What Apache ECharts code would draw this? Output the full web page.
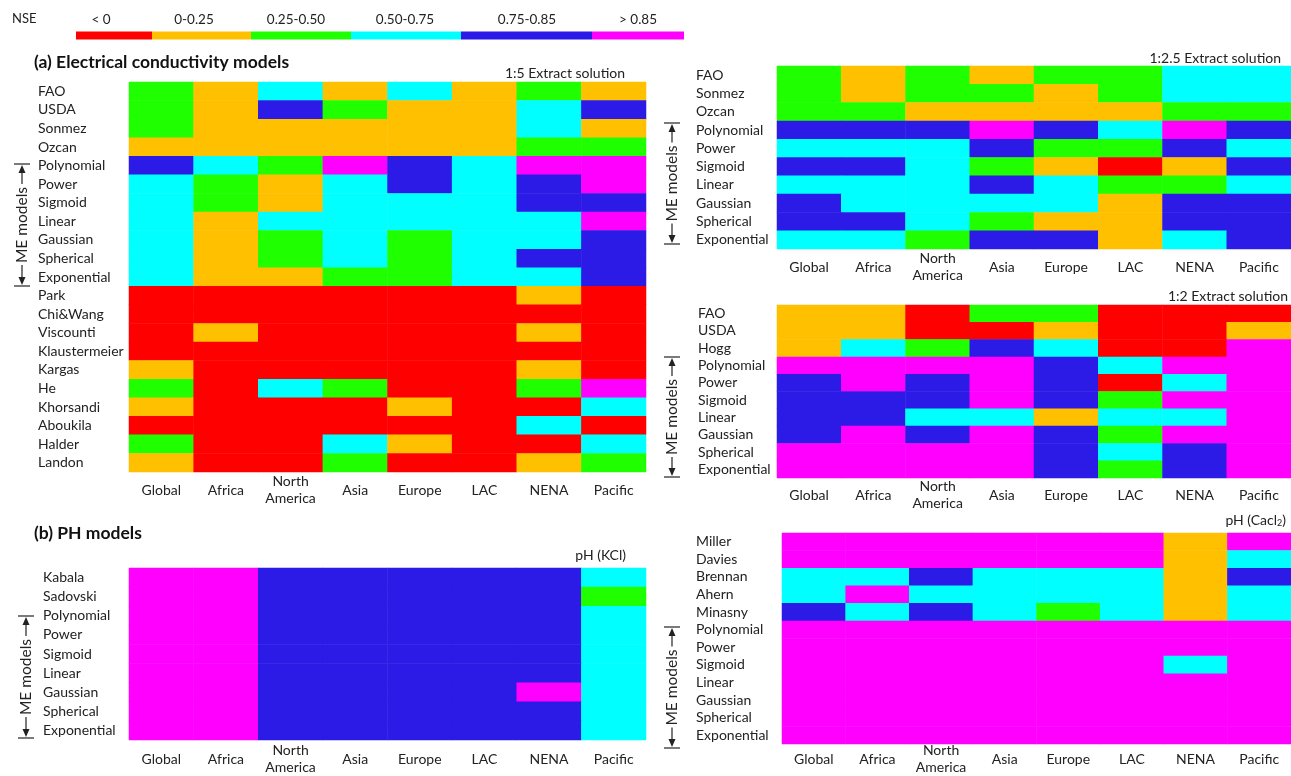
<!DOCTYPE html>
<html>
<head>
<meta charset="utf-8">
<script src="https://cdn.jsdelivr.net/npm/echarts@6/dist/echarts.min.js"></script>
<style>
html,body{margin:0;padding:0;background:#fff;}
#c{width:1291px;height:776px;}
</style>
</head>
<body>
<div id="c"></div>
<script>
// NSE classes: 0 "<0", 1 "0-0.25", 2 "0.25-0.50", 3 "0.50-0.75", 4 "0.75-0.85", 5 ">0.85"
const nseClasses = ['< 0', '0-0.25', '0.25-0.50', '0.50-0.75', '0.75-0.85', '> 0.85'];
const nseColors = ['#FF0000', '#FFC000', '#20FF00', '#00FFFF', '#2C1BE6', '#FF00FF'];
const regions = ['Global', 'Africa', 'North\nAmerica', 'Asia', 'Europe', 'LAC', 'NENA', 'Pacific'];

// (a) EC 1:5 extract
const ec15Models = ['FAO','USDA','Sonmez','Ozcan','Polynomial','Power','Sigmoid','Linear','Gaussian','Spherical','Exponential','Park','Chi&Wang','Viscounti','Klaustermeier','Kargas','He','Khorsandi','Aboukila','Halder','Landon'];
const ec15Values = [
  [2,1,3,1,3,1,2,1],
  [2,1,4,2,1,1,3,4],
  [2,1,1,1,1,1,3,1],
  [1,1,1,1,1,1,2,2],
  [4,3,2,5,4,3,5,5],
  [3,2,1,3,4,3,4,5],
  [3,2,1,3,3,3,4,4],
  [3,1,3,3,3,3,3,5],
  [3,1,2,3,2,3,3,4],
  [3,1,2,3,2,3,4,4],
  [3,1,1,2,2,3,3,4],
  [0,0,0,0,0,0,1,0],
  [0,0,0,0,0,0,0,0],
  [0,1,0,0,0,0,1,0],
  [0,0,0,0,0,0,0,0],
  [1,0,0,0,0,0,1,0],
  [2,0,3,2,0,0,2,5],
  [1,0,0,0,1,0,0,3],
  [0,0,0,0,0,0,3,0],
  [2,0,0,3,1,0,0,3],
  [1,0,0,2,0,0,1,2]
];

// EC 1:2.5 extract
const ec125Models = ['FAO','Sonmez','Ozcan','Polynomial','Power','Sigmoid','Linear','Gaussian','Spherical','Exponential'];
const ec125Values = [
  [2,1,2,1,2,2,3,3],
  [2,1,2,2,1,2,3,3],
  [2,2,1,1,1,1,2,2],
  [4,4,4,5,4,3,5,4],
  [3,3,3,4,2,2,4,3],
  [4,4,3,2,1,0,1,4],
  [3,3,3,4,3,2,2,3],
  [4,3,3,3,3,1,4,4],
  [4,4,3,2,1,1,4,4],
  [3,3,2,4,4,1,3,4]
];

// EC 1:2 extract
const ec12Models = ['FAO','USDA','Hogg','Polynomial','Power','Sigmoid','Linear','Gaussian','Spherical','Exponential'];
const ec12Values = [
  [1,1,0,2,2,0,0,0],
  [1,1,0,0,1,0,0,1],
  [1,3,2,4,3,0,0,5],
  [5,5,5,5,4,3,5,5],
  [4,5,4,5,4,0,3,5],
  [4,4,4,5,4,2,5,5],
  [4,4,3,3,1,3,3,5],
  [4,5,4,5,4,2,5,5],
  [5,5,5,5,4,3,4,5],
  [5,5,5,5,4,2,4,5]
];

// (b) pH KCl
const phKclModels = ['Kabala','Sadovski','Polynomial','Power','Sigmoid','Linear','Gaussian','Spherical','Exponential'];
const phKclValues = [
  [5,5,4,4,4,4,4,3],
  [5,5,4,4,4,4,4,2],
  [5,5,4,4,4,4,4,3],
  [5,5,4,4,4,4,4,3],
  [5,5,4,4,4,4,4,3],
  [5,5,4,4,4,4,4,3],
  [5,5,4,4,4,4,5,3],
  [5,5,4,4,4,4,4,3],
  [5,5,4,4,4,4,4,3]
];

// pH CaCl2
const phCaModels = ['Miller','Davies','Brennan','Ahern','Minasny','Polynomial','Power','Sigmoid','Linear','Gaussian','Spherical','Exponential'];
const phCaValues = [
  [5,5,5,5,5,5,1,5],
  [5,5,5,5,5,5,1,3],
  [3,3,4,3,3,3,1,4],
  [3,5,3,3,3,3,1,3],
  [4,3,4,3,2,3,1,3],
  [5,5,5,5,5,5,5,5],
  [5,5,5,5,5,5,5,5],
  [5,5,5,5,5,5,3,5],
  [5,5,5,5,5,5,5,5],
  [5,5,5,5,5,5,5,5],
  [5,5,5,5,5,5,5,5],
  [5,5,5,5,5,5,5,5]
];

const FONT = 'Lato, "Open Sans", sans-serif';
const TXT = '#222';

const panels = [
  {models: ec15Models, values: ec15Values, grid: {left:129, top:82, width:517, height:390}, yMargin:91, xMargin:18},
  {models: ec125Models, values: ec125Values, grid: {left:777, top:66, width:514, height:183}, yMargin:81, xMargin:18},
  {models: ec12Models, values: ec12Values, grid: {left:777, top:305, width:514, height:173}, yMargin:79, xMargin:17},
  {models: phKclModels, values: phKclValues, grid: {left:129, top:568, width:517, height:175}, yMargin:86, xMargin:19},
  {models: phCaModels, values: phCaValues, grid: {left:782, top:533, width:509, height:215}, yMargin:86, xMargin:15}
];

const grids = [], xAxes = [], yAxes = [], series = [];
panels.forEach((p, i) => {
  grids.push(Object.assign({containLabel:false}, p.grid));
  xAxes.push({
    type:'category', gridIndex:i, data:regions,
    axisLine:{show:false}, axisTick:{show:false}, splitLine:{show:false},
    axisLabel:{interval:0, margin:p.xMargin, verticalAlign:'middle', color:TXT, fontFamily:FONT, fontSize:14, lineHeight:17}
  });
  yAxes.push({
    type:'category', gridIndex:i, data:p.models, inverse:true,
    axisLine:{show:false}, axisTick:{show:false}, splitLine:{show:false},
    axisLabel:{interval:0, margin:p.yMargin, align:'left', color:TXT, fontFamily:FONT, fontSize:14, padding:[2,0,0,0]}
  });
  const data = [];
  p.values.forEach((row, r) => row.forEach((v, c) => data.push([c, r, v])));
  series.push({
    type:'heatmap', xAxisIndex:i, yAxisIndex:i, data:data,
    itemStyle:{borderWidth:0}, emphasis:{disabled:true}, silent:true, progressive:0
  });
});

// Graphic: legend, titles, brackets
const graphic = [];
const legendStops = [76, 152, 251, 351, 461, 592, 684];
const legendLabelX = [101, 194, 296, 405, 527, 638];
graphic.push({type:'text', left:12, top:12, style:{text:'NSE', fill:TXT, font:'13px ' + FONT}});
nseClasses.forEach((lab, k) => {
  graphic.push({type:'rect', shape:{x:legendStops[k], y:31.5, width:legendStops[k+1]-legendStops[k], height:8}, style:{fill:nseColors[k]}});
  graphic.push({type:'text', x:legendLabelX[k], y:20, style:{text:lab, fill:TXT, font:'13.5px ' + FONT, textAlign:'center', textVerticalAlign:'middle'}});
});

function addText(txt, x, y, opts) {
  graphic.push({type:'text', x:x, y:y, style:Object.assign({text:txt, fill:TXT, font:'14px ' + FONT, textVerticalAlign:'middle'}, opts||{})});
}
addText('(a) Electrical conductivity models', 34, 62, {font:'bold 17.5px ' + FONT, fill:'#111'});
addText('(b) PH models', 34, 533, {font:'bold 17.5px ' + FONT, fill:'#111'});
addText('1:5 Extract solution', 625, 73, {textAlign:'right'});
addText('1:2.5 Extract solution', 1281, 58, {textAlign:'right'});
addText('1:2 Extract solution', 1288, 296, {textAlign:'right'});
addText('pH (KCl)', 626, 555, {textAlign:'right'});
graphic.push({type:'text', x:1286, y:520, style:{
  text:'pH (Cacl{s|2})', textAlign:'right', textVerticalAlign:'middle', fill:TXT, font:'14px ' + FONT,
  rich:{s:{fontSize:9, fontFamily:FONT, fill:TXT, padding:[6,0,0,0]}}
}});

function bracket(x, yTop, yBot) {
  const mid = (yTop + yBot) / 2;
  const lc = '#222';
  graphic.push({type:'line', shape:{x1:x-8, y1:yTop, x2:x+8, y2:yTop}, style:{stroke:lc, lineWidth:1.2}});
  graphic.push({type:'line', shape:{x1:x-8, y1:yBot, x2:x+8, y2:yBot}, style:{stroke:lc, lineWidth:1.2}});
  graphic.push({type:'polygon', shape:{points:[[x, yTop+1],[x-3.5, yTop+9],[x+3.5, yTop+9]]}, style:{fill:lc}});
  graphic.push({type:'polygon', shape:{points:[[x, yBot-1],[x-3.5, yBot-9],[x+3.5, yBot-9]]}, style:{fill:lc}});
  graphic.push({type:'line', shape:{x1:x, y1:yTop+8, x2:x, y2:mid-41}, style:{stroke:lc, lineWidth:1.2}});
  graphic.push({type:'line', shape:{x1:x, y1:mid+40, x2:x, y2:yBot-8}, style:{stroke:lc, lineWidth:1.2}});
  graphic.push({type:'text', x:x, y:mid, rotation:Math.PI/2, style:{text:'ME models', fill:TXT, font:'15.5px ' + FONT, textAlign:'center', textVerticalAlign:'middle'}});
}
bracket(22, 164, 286);
bracket(672, 123, 244);
bracket(672, 357, 477);
bracket(26, 616, 738);
bracket(672, 627, 748);

const chart = echarts.init(document.getElementById('c'), null, {renderer:'canvas'});
chart.setOption({
  animation:false,
  backgroundColor:'#fff',
  grid:grids, xAxis:xAxes, yAxis:yAxes, series:series,
  visualMap:{
    type:'piecewise', show:false, dimension:2, seriesIndex:[0,1,2,3,4],
    pieces: nseColors.map((c, k) => ({value:k, color:c}))
  },
  graphic:graphic
});
</script>
</body>
</html>
